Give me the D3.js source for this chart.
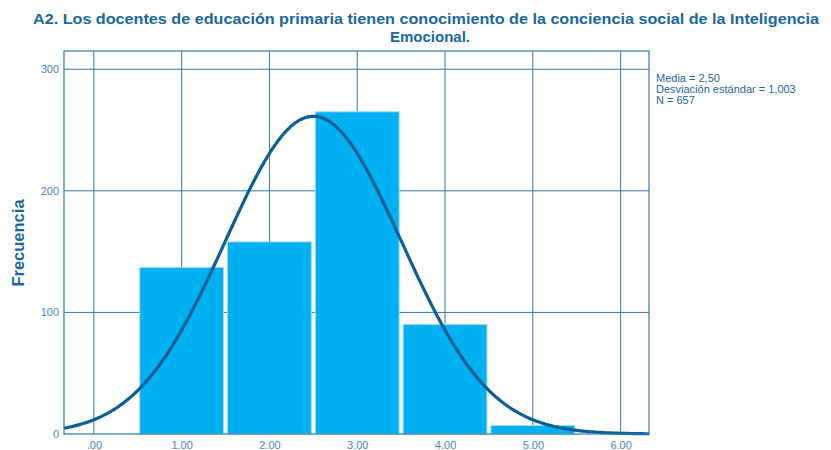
<!DOCTYPE html>
<html><head><meta charset="utf-8">
<script src="https://cdn.jsdelivr.net/npm/d3@7"></script>
<style>body{margin:0;background:#fff;} svg{display:block;font-family:"Liberation Sans",Arial,sans-serif;}</style>
</head><body>
<svg id="c" width="831" height="450"></svg>
<script>
const categories = [1, 2, 3, 4, 5];
const frequencies = [137, 158, 265, 90, 7];
const xTicks = [0, 1, 2, 3, 4, 5, 6];
const yTicks = [0, 100, 200, 300];
const stats = ["Media = 2,50", "Desviación estándar = 1,003", "N = 657"];
const mean = 2.50, sd = 1.003, n = 657;
const titleLines = ["A2. Los docentes de educación primaria tienen conocimiento de la conciencia social de la Inteligencia", "Emocional."];

const svg = d3.select("#c");
const L = 64, R = 649, T = 51, B = 434;
const x = d3.scaleLinear().domain([-0.34, 6.323]).range([L, R]);
const y = d3.scaleLinear().domain([0, 315]).range([B, T]);
const gridC = "#2f78b3", textC = "#1a67a3", tickC = "#4a88bd";

// grid
svg.append("g").selectAll("line.v").data(xTicks).join("line")
  .attr("x1", d => x(d)).attr("x2", d => x(d)).attr("y1", T).attr("y2", B)
  .attr("stroke", gridC).attr("stroke-width", 1);
svg.append("g").selectAll("line.h").data(yTicks.filter(d => d > 0)).join("line")
  .attr("x1", L).attr("x2", R).attr("y1", d => y(d)).attr("y2", d => y(d))
  .attr("stroke", gridC).attr("stroke-width", 1);

// bars
svg.append("g").selectAll("rect").data(categories).join("rect")
  .attr("x", d => x(d - 0.5) + 2)
  .attr("width", d => x(d + 0.5) - x(d - 0.5) - 4)
  .attr("y", (d, i) => y(frequencies[i]))
  .attr("height", (d, i) => B - y(frequencies[i]))
  .attr("fill", "#00b0f0").attr("stroke", "#9edcf7").attr("stroke-width", 1);

// normal curve
const pts = d3.range(0, 301).map(i => {
  const v = x.domain()[0] + (x.domain()[1] - x.domain()[0]) * i / 300;
  return [v, n * Math.exp(-((v - mean) ** 2) / (2 * sd * sd)) / (sd * Math.sqrt(2 * Math.PI))];
});
svg.append("path").datum(pts)
  .attr("d", d3.line().x(d => x(d[0])).y(d => y(d[1])).curve(d3.curveBasis))
  .attr("fill", "none").attr("stroke", "#0b5f96").attr("stroke-width", 3.2);

// frame
svg.append("rect").attr("x", L).attr("y", T).attr("width", R - L).attr("height", B - T)
  .attr("fill", "none").attr("stroke", gridC).attr("stroke-width", 1.2);

// axes labels
const xa = svg.append("g").attr("transform", `translate(0,${B})`)
  .call(d3.axisBottom(x).tickValues(xTicks).tickSize(0).tickPadding(7)
    .tickFormat(d => d === 0 ? ".00" : d3.format(".2f")(d)));
xa.select(".domain").remove();
xa.selectAll("text").attr("fill", tickC).attr("font-size", 11).attr("font-family", "Liberation Sans, Arial, sans-serif");

const ya = svg.append("g").attr("transform", `translate(${L},0)`)
  .call(d3.axisLeft(y).tickValues(yTicks).tickSize(0).tickPadding(5));
ya.select(".domain").remove();
ya.selectAll("text").attr("fill", tickC).attr("font-size", 11).attr("font-family", "Liberation Sans, Arial, sans-serif");

svg.append("text").attr("transform", "translate(24,243) rotate(-90)")
  .attr("text-anchor", "middle").attr("font-size", 16.5).attr("font-weight", "bold")
  .attr("fill", textC).text("Frecuencia");

// title
svg.append("text").attr("x", 426).attr("y", 24).attr("text-anchor", "middle")
  .attr("font-size", 15).attr("font-weight", "bold").attr("fill", textC)
  .attr("textLength", 786).attr("lengthAdjust", "spacingAndGlyphs").text(titleLines[0]);
svg.append("text").attr("x", 430).attr("y", 42).attr("text-anchor", "middle")
  .attr("font-size", 15).attr("font-weight", "bold").attr("fill", textC).text(titleLines[1]);

// stats legend
svg.append("g").selectAll("text").data(stats).join("text")
  .attr("x", 656).attr("y", (d, i) => 82 + i * 11)
  .attr("font-size", 11).attr("fill", textC).text(d => d);
</script>
</body></html>
